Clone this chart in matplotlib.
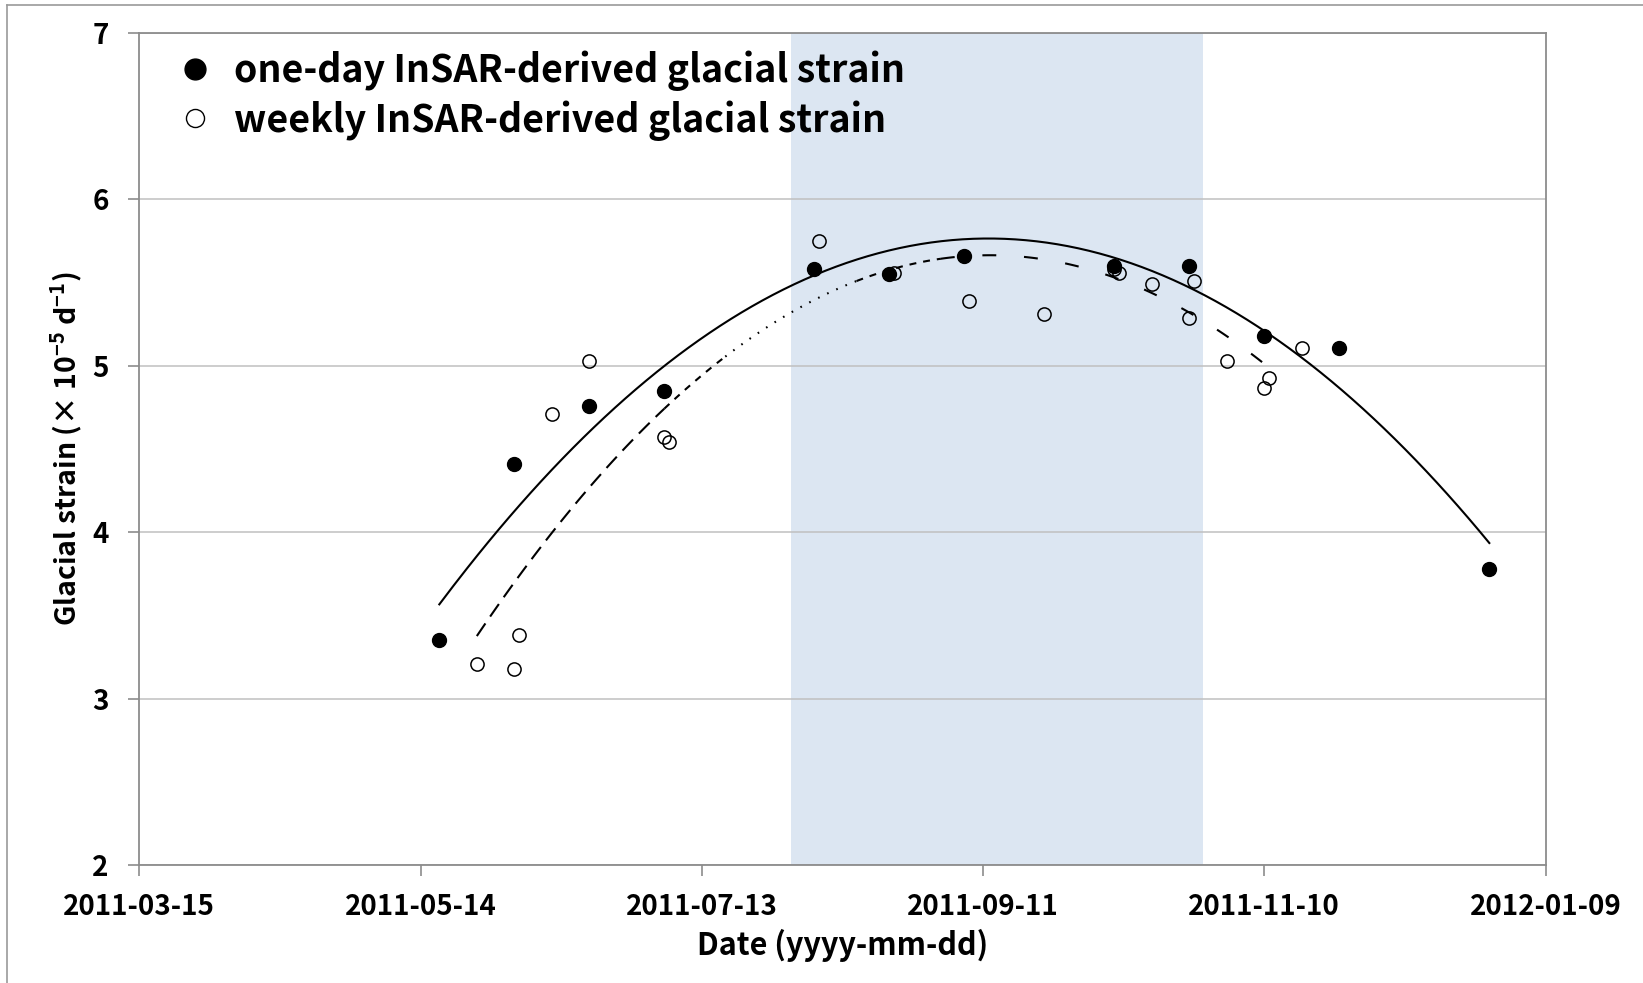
import numpy as np
import matplotlib
matplotlib.use("Agg")
import matplotlib.pyplot as plt
import matplotlib.dates as mdates
from matplotlib.lines import Line2D

plt.rcParams["font.family"] = ["Noto Sans CJK JP", "DejaVu Sans"]
plt.rcParams["font.weight"] = "bold"
plt.rcParams["axes.labelweight"] = "bold"
plt.rcParams["mathtext.fontset"] = "custom"
plt.rcParams["mathtext.rm"] = "Noto Sans CJK JP:bold"
plt.rcParams["lines.scale_dashes"] = False

# one-day InSAR strain
daily_dates = ["2011-05-18", "2011-06-03", "2011-06-19", "2011-07-05",
               "2011-08-06", "2011-08-22", "2011-09-07", "2011-10-09",
               "2011-10-25", "2011-11-10", "2011-11-26", "2011-12-28"]
daily_strain = [3.35, 4.41, 4.76, 4.85, 5.58, 5.55, 5.66, 5.60,
                5.60, 5.18, 5.11, 3.78]

# weekly InSAR strain
weekly_dates = ["2011-05-26", "2011-06-03", "2011-06-04", "2011-06-11",
                "2011-06-19", "2011-07-05", "2011-07-06", "2011-08-07",
                "2011-08-23", "2011-09-08", "2011-09-24", "2011-10-09",
                "2011-10-10", "2011-10-17", "2011-10-25", "2011-10-26",
                "2011-11-02", "2011-11-10", "2011-11-11", "2011-11-18"]
weekly_strain = [3.21, 3.18, 3.38, 4.71, 5.03, 4.57, 4.54, 5.75,
                 5.56, 5.39, 5.31, 5.58, 5.56, 5.49, 5.29, 5.51,
                 5.03, 4.87, 4.93, 5.11]

tick_dates = ["2011-03-15", "2011-05-14", "2011-07-13",
              "2011-09-11", "2011-11-10", "2012-01-09"]
shade_span = ["2011-08-01", "2011-10-28"]

to_num = lambda s: mdates.datestr2num(s)
dx = np.array([to_num(d) for d in daily_dates])
dy = np.array(daily_strain)
wx = np.array([to_num(d) for d in weekly_dates])
wy = np.array(weekly_strain)

fig = plt.figure(figsize=(16.43, 9.83), dpi=100)
ax = fig.add_axes([0.0848, 0.1199, 0.8559, 0.8465])

# figure border (left/top visible)
fig.add_artist(Line2D([0.0043, 0.0043], [0.0, 0.9945], transform=fig.transFigure,
                      color="#9a9a9a", lw=1.2))
fig.add_artist(Line2D([0.0043, 1.0], [0.9945, 0.9945], transform=fig.transFigure,
                      color="#9a9a9a", lw=1.2))

ax.axvspan(to_num(shade_span[0]), to_num(shade_span[1]), color="#dce6f2", lw=0, zorder=0)

ax.set_ylim(2, 7)
ax.set_xlim(to_num(tick_dates[0]), to_num(tick_dates[-1]))
ax.set_yticks([2, 3, 4, 5, 6, 7])
ax.set_xticks([to_num(d) for d in tick_dates])
ax.xaxis.set_major_formatter(mdates.DateFormatter("%Y-%m-%d"))
ax.grid(axis="y", color="#c0c0c0", lw=1.1, zorder=0.5)
ax.set_axisbelow(True)

for s in ax.spines.values():
    s.set_color("#8c8c8c")
    s.set_linewidth(1.3)
ax.tick_params(axis="both", colors="#8c8c8c", length=8, width=1.2,
               labelcolor="black", labelsize=20)
ax.tick_params(axis="y", pad=14)
ax.tick_params(axis="x", pad=12)

# quadratic trend lines
t0 = dx.min()
pd_ = np.polyfit(dx - t0, dy, 2)
xs = np.linspace(dx.min(), dx.max(), 300)
ax.plot(xs, np.polyval(pd_, xs - t0), color="black", lw=1.5, zorder=2)

pw = np.polyfit(wx - t0, wy, 2)
segs = [("2011-05-26", "2011-07-05", (0, (11, 6))),
        ("2011-07-05", "2011-07-18", (0, (5, 5))),
        ("2011-07-18", "2011-08-15", (0, (1.2, 6))),
        ("2011-08-15", "2011-09-02", (0, (5, 5))),
        ("2011-09-02", "2011-11-14", (0, (10, 20)))]
for a, b, ls in segs:
    xx = np.linspace(to_num(a), to_num(b), 120)
    ax.plot(xx, np.polyval(pw, xx - t0), color="black", lw=1.5, ls=ls, zorder=2)

ax.plot(wx, wy, "o", ms=9.5, mfc="none", mec="black", mew=1.1, zorder=3)
ax.plot(dx, dy, "o", ms=10, mfc="black", mec="black", zorder=4)

ax.set_xlabel("Date (yyyy-mm-dd)", fontsize=22, labelpad=6)
ax.set_ylabel(r"Glacial strain (× 10$^{\mathregular{-5}}$ d$^{\mathregular{-1}}$)",
              fontsize=20.5, labelpad=6)

handles = [Line2D([], [], ls="none", marker="o", ms=15, mfc="black", mec="black"),
           Line2D([], [], ls="none", marker="o", ms=13, mfc="none", mec="black", mew=1.0)]
ax.legend(handles, ["one-day InSAR-derived glacial strain",
                    "weekly InSAR-derived glacial strain"],
          loc="upper left", bbox_to_anchor=(0.002, 1.02), frameon=False,
          fontsize=27, handlelength=1.0, handletextpad=0.55, labelspacing=0.25)

fig.savefig("out.png", dpi=100)
